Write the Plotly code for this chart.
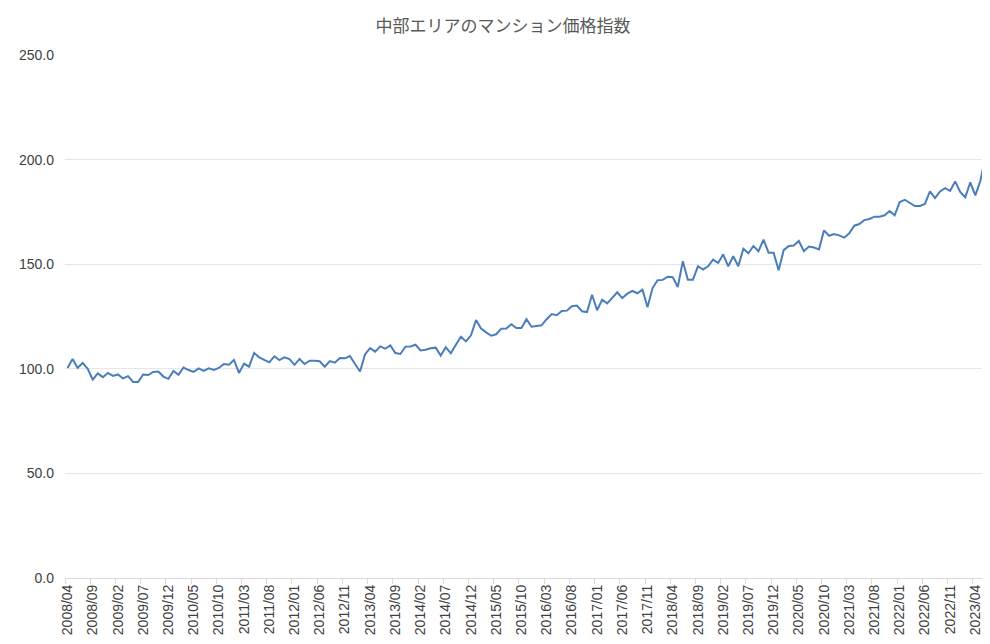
import plotly.graph_objects as go

# monthly index values, 2008/04 - 2023/07
VALUES = [
    100.4, 104.7, 100.4, 102.8, 100.0, 94.8, 97.8, 96.0, 98.0, 96.6,
    97.3, 95.4, 96.5, 93.7, 93.7, 97.3, 97.0, 98.5, 98.7, 96.3,
    95.2, 99.0, 97.1, 100.6, 99.4, 98.5, 100.2, 99.0, 100.2, 99.5,
    100.4, 102.3, 102.0, 104.2, 98.0, 102.5, 101.0, 107.6, 105.5, 104.4,
    103.1, 106.0, 104.2, 105.5, 104.6, 101.9, 104.7, 102.3, 103.9, 103.9,
    103.6, 101.0, 103.7, 102.9, 105.2, 105.0, 106.1, 102.3, 98.7, 107.0,
    109.9, 108.2, 110.7, 109.6, 111.2, 107.5, 107.1, 110.6, 110.7, 111.5,
    108.8, 109.1, 109.8, 110.1, 106.3, 110.3, 107.4, 111.5, 115.3, 113.1,
    116.0, 123.3, 119.2, 117.4, 115.8, 116.5, 119.2, 119.3, 121.3, 119.5,
    119.5, 123.7, 120.1, 120.5, 120.8, 123.7, 126.2, 125.6, 127.6, 127.8,
    129.9, 130.2, 127.5, 127.1, 135.4, 128.0, 133.0, 131.3, 134.0, 136.6,
    133.8, 135.9, 137.2, 136.1, 137.8, 129.4, 138.6, 142.3, 142.5, 144.0,
    143.8, 139.1, 151.4, 142.6, 142.6, 149.0, 147.4, 149.0, 152.2, 150.6,
    154.7, 149.0, 153.8, 149.0, 157.4, 155.2, 158.7, 156.2, 161.7, 155.5,
    155.5, 147.1, 156.7, 158.7, 158.9, 161.1, 156.2, 158.4, 158.0, 157.1,
    166.2, 163.6, 164.4, 163.8, 162.7, 164.8, 168.4, 169.2, 171.1, 171.6,
    172.7, 172.7, 173.4, 175.4, 173.4, 179.7, 180.8, 179.1, 177.8, 177.8,
    178.8, 184.8, 181.6, 184.8, 186.4, 185.1, 189.6, 184.5, 182.0, 189.1,
    182.9, 189.9, 201.6, 188.8,
]
MONTHS = [f"{2008 + (3 + i) // 12}/{(3 + i) % 12 + 1:02d}" for i in range(len(VALUES))]

fig = go.Figure(go.Scatter(
    x=MONTHS, y=VALUES, mode="lines",
    line=dict(color="#4a7ebb", width=2),
))

fig.update_layout(
    width=990, height=644,
    paper_bgcolor="white", plot_bgcolor="white",
    font=dict(family="Liberation Sans, Arial, sans-serif", color="#404040"),
    title=dict(text="中部エリアのマンション価格指数", x=0.5, xanchor="center",
               y=0.972, yanchor="middle",
               font=dict(family="Noto Sans CJK JP", size=17, color="#595959")),
    margin=dict(l=57, r=5, t=47, b=74),
    showlegend=False,
)
fig.update_xaxes(
    type="category", range=[-0.5, len(VALUES) - 0.5], automargin=False,
    tickmode="linear", tick0=0, dtick=5,
    tickangle=-90, tickfont=dict(size=14, color="#404040"),
    showgrid=False, showline=True, linecolor="#d9d9d9",
    ticks="outside", tickson="boundaries", ticklen=5, tickcolor="#d9d9d9",
)
fig.update_yaxes(
    range=[0, 250], dtick=50, tickformat=".1f", automargin=False,
    tickfont=dict(size=14, color="#404040"), ticklabelstandoff=10,
    showgrid=True, gridcolor="#e6e6e6", zeroline=False,
)

fig.write_html("out.html")
